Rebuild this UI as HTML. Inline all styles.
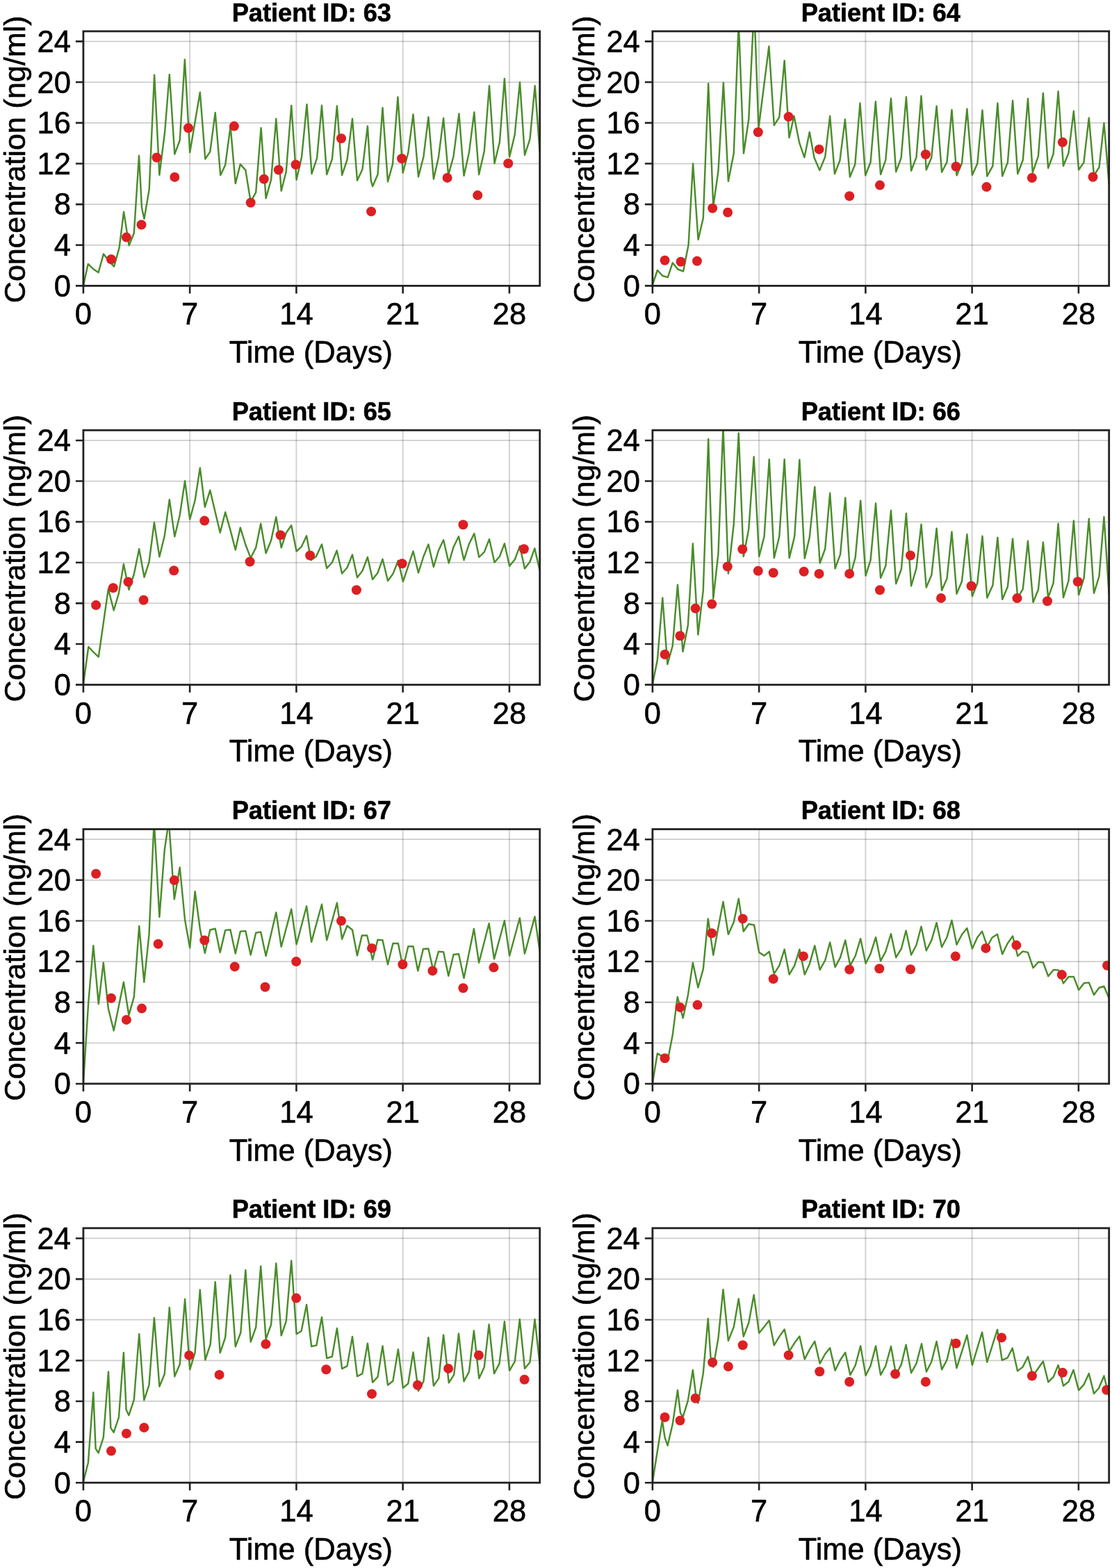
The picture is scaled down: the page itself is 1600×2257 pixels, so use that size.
<!DOCTYPE html>
<html><head><meta charset="utf-8"><title>Patient concentration plots</title>
<style>
html,body{margin:0;padding:0;background:#fff;}
body{width:1600px;height:2257px;overflow:hidden;}
svg{display:block;}
text{font-family:"Liberation Sans",Arial,Helvetica,sans-serif;fill:#000;stroke:#000;stroke-width:0.6px;}
.tk{font-size:43.5px;}
.lb{font-size:43.5px;}
.tt{font-size:36.2px;font-weight:bold;}
.yl{font-size:43px;}
</style></head><body>
<svg width="1600" height="2257" viewBox="0 0 1600 2257"><rect width="1600" height="2257" fill="#fff"/><path d="M273.15 45.00V411.40M426.41 45.00V411.40M579.66 45.00V411.40M732.91 45.00V411.40" stroke="#000" stroke-opacity="0.173" stroke-width="2" fill="none"/><path d="M119.90 352.78H776.70M119.90 294.15H776.70M119.90 235.53H776.70M119.90 176.90H776.70M119.90 118.28H776.70M119.90 59.66H776.70" stroke="#000" stroke-opacity="0.195" stroke-width="1.7" fill="none"/><clipPath id="c0"><rect x="119.90" y="45.00" width="656.80" height="366.40"/></clipPath><path d="M119.9,411.4 126.7,379.9 135.0,387.8 141.6,392.3 149.0,365.4 156.5,375.6 164.1,383.7 171.6,356.6 178.1,305.0 185.6,353.2 192.8,335.8 200.0,224.1 204.0,299.3 207.5,315.0 214.7,272.6 222.1,107.9 229.4,251.9 237.2,189.5 243.8,107.3 251.3,221.9 258.7,202.0 265.9,85.7 273.2,219.4 287.8,132.9 295.3,228.9 302.3,218.4 309.7,162.2 317.2,252.2 324.2,237.4 331.6,182.2 338.8,264.1 345.8,236.4 353.3,244.9 360.7,290.5 368.2,276.9 375.6,184.2 382.6,285.4 390.1,258.7 397.3,171.0 404.7,274.7 411.7,247.3 419.2,152.0 426.6,258.7 434.1,225.7 441.5,150.2 448.5,250.2 456.0,227.9 463.0,151.8 470.2,251.2 477.9,228.9 484.9,152.4 492.1,252.2 499.5,230.0 507.0,171.0 514.0,259.7 521.4,243.9 528.9,181.6 533.7,259.7 536.1,268.2 543.5,251.2 550.5,155.2 558.0,261.5 565.0,236.4 572.4,139.7 579.7,248.7 587.3,219.8 594.5,164.6 602.0,254.4 609.4,225.7 616.4,168.4 623.9,257.7 630.9,226.9 638.1,170.2 645.1,252.2 652.6,224.7 660.4,163.7 667.5,253.0 674.9,219.8 682.3,161.4 689.1,251.2 696.8,217.4 704.0,123.4 711.5,235.2 718.9,204.5 725.9,113.2 733.1,225.7 740.6,194.3 748.0,118.4 755.0,223.2 762.5,200.2 769.7,123.4 776.7,219.4" stroke="#4a8c2a" stroke-width="2.45" fill="none" stroke-linejoin="round" clip-path="url(#c0)"/><circle cx="160.0" cy="373.3" r="7" fill="#dc1f22" clip-path="url(#c0)"/><circle cx="181.9" cy="341.6" r="7" fill="#dc1f22" clip-path="url(#c0)"/><circle cx="203.5" cy="323.5" r="7" fill="#dc1f22" clip-path="url(#c0)"/><circle cx="225.4" cy="226.7" r="7" fill="#dc1f22" clip-path="url(#c0)"/><circle cx="251.3" cy="254.9" r="7" fill="#dc1f22" clip-path="url(#c0)"/><circle cx="271.0" cy="184.2" r="7" fill="#dc1f22" clip-path="url(#c0)"/><circle cx="336.9" cy="181.6" r="7" fill="#dc1f22" clip-path="url(#c0)"/><circle cx="360.7" cy="291.7" r="7" fill="#dc1f22" clip-path="url(#c0)"/><circle cx="379.8" cy="257.7" r="7" fill="#dc1f22" clip-path="url(#c0)"/><circle cx="400.8" cy="244.5" r="7" fill="#dc1f22" clip-path="url(#c0)"/><circle cx="425.5" cy="237.0" r="7" fill="#dc1f22" clip-path="url(#c0)"/><circle cx="491.0" cy="199.2" r="7" fill="#dc1f22" clip-path="url(#c0)"/><circle cx="534.1" cy="304.4" r="7" fill="#dc1f22" clip-path="url(#c0)"/><circle cx="578.1" cy="228.3" r="7" fill="#dc1f22" clip-path="url(#c0)"/><circle cx="643.6" cy="255.9" r="7" fill="#dc1f22" clip-path="url(#c0)"/><circle cx="687.2" cy="281.1" r="7" fill="#dc1f22" clip-path="url(#c0)"/><circle cx="731.2" cy="235.2" r="7" fill="#dc1f22" clip-path="url(#c0)"/><rect x="119.90" y="45.00" width="656.80" height="366.40" fill="none" stroke="#222222" stroke-width="2.8"/><path d="M119.90 411.40V422.40M273.15 411.40V422.40M426.41 411.40V422.40M579.66 411.40V422.40M732.91 411.40V422.40M119.90 411.40H108.90M119.90 352.78H108.90M119.90 294.15H108.90M119.90 235.53H108.90M119.90 176.90H108.90M119.90 118.28H108.90M119.90 59.66H108.90" stroke="#222222" stroke-width="2.6" fill="none"/><text x="119.90" y="467.40" text-anchor="middle" class="tk">0</text><text x="273.15" y="467.40" text-anchor="middle" class="tk">7</text><text x="426.41" y="467.40" text-anchor="middle" class="tk">14</text><text x="579.66" y="467.40" text-anchor="middle" class="tk">21</text><text x="732.91" y="467.40" text-anchor="middle" class="tk">28</text><text x="101.90" y="426.70" text-anchor="end" class="tk">0</text><text x="101.90" y="368.08" text-anchor="end" class="tk">4</text><text x="101.90" y="309.45" text-anchor="end" class="tk">8</text><text x="101.90" y="250.83" text-anchor="end" class="tk">12</text><text x="101.90" y="192.20" text-anchor="end" class="tk">16</text><text x="101.90" y="133.58" text-anchor="end" class="tk">20</text><text x="101.90" y="74.96" text-anchor="end" class="tk">24</text><text x="447.30" y="522.00" text-anchor="middle" class="lb">Time (Days)</text><text transform="translate(35.90,229.40) rotate(-90)" text-anchor="middle" class="yl">Concentration (ng/ml)</text><text x="448.30" y="30.50" text-anchor="middle" class="tt">Patient ID: 63</text><path d="M1092.15 45.00V411.40M1245.41 45.00V411.40M1398.66 45.00V411.40M1551.91 45.00V411.40" stroke="#000" stroke-opacity="0.173" stroke-width="2" fill="none"/><path d="M938.90 352.78H1595.70M938.90 294.15H1595.70M938.90 235.53H1595.70M938.90 176.90H1595.70M938.90 118.28H1595.70M938.90 59.66H1595.70" stroke="#000" stroke-opacity="0.195" stroke-width="1.7" fill="none"/><clipPath id="c1"><rect x="938.90" y="45.00" width="656.80" height="366.40"/></clipPath><path d="M938.9,409.9 945.9,389.0 953.3,397.0 960.8,399.1 967.8,378.3 975.2,387.5 983.1,390.6 990.6,352.5 997.1,235.5 1004.6,345.0 1011.8,314.1 1019.2,120.3 1026.3,297.2 1033.5,246.2 1040.9,119.0 1047.9,261.0 1055.8,220.7 1062.8,31.8 1070.0,220.7 1077.3,171.8 1085.1,8.4 1091.5,184.5 1106.4,66.7 1113.8,180.3 1121.3,168.6 1128.7,87.2 1135.5,198.3 1142.5,167.1 1150.0,204.8 1157.4,226.6 1164.8,190.2 1171.6,227.0 1179.3,245.1 1187.2,226.0 1194.2,167.1 1201.0,250.3 1208.4,231.3 1215.9,171.8 1222.9,254.7 1230.3,236.6 1237.5,148.5 1245.2,252.5 1252.6,233.5 1259.9,146.3 1267.1,251.1 1274.3,230.3 1282.0,141.6 1289.2,247.3 1296.6,227.6 1303.9,139.5 1311.1,245.8 1318.5,226.4 1325.5,138.2 1332.8,244.5 1340.2,227.0 1347.6,152.7 1355.1,247.8 1362.5,233.3 1369.5,158.0 1376.5,252.5 1384.0,235.1 1391.4,156.8 1398.9,252.1 1406.3,235.5 1413.5,158.6 1420.3,253.6 1428.4,238.8 1435.4,148.5 1442.2,253.6 1449.9,233.9 1457.1,144.8 1464.3,250.3 1471.8,230.3 1479.0,142.0 1485.8,248.3 1493.9,224.8 1500.9,134.1 1508.1,242.0 1515.6,221.8 1522.6,131.5 1530.0,238.8 1537.5,220.3 1544.9,160.0 1552.1,244.5 1559.4,233.9 1566.8,169.7 1574.0,252.5 1581.5,240.8 1588.5,177.1 1595.7,264.8" stroke="#4a8c2a" stroke-width="2.45" fill="none" stroke-linejoin="round" clip-path="url(#c1)"/><circle cx="956.6" cy="374.8" r="7" fill="#dc1f22" clip-path="url(#c1)"/><circle cx="979.6" cy="376.8" r="7" fill="#dc1f22" clip-path="url(#c1)"/><circle cx="1003.0" cy="375.8" r="7" fill="#dc1f22" clip-path="url(#c1)"/><circle cx="1025.2" cy="299.7" r="7" fill="#dc1f22" clip-path="url(#c1)"/><circle cx="1047.1" cy="305.7" r="7" fill="#dc1f22" clip-path="url(#c1)"/><circle cx="1090.8" cy="190.2" r="7" fill="#dc1f22" clip-path="url(#c1)"/><circle cx="1134.6" cy="168.1" r="7" fill="#dc1f22" clip-path="url(#c1)"/><circle cx="1178.6" cy="214.9" r="7" fill="#dc1f22" clip-path="url(#c1)"/><circle cx="1222.2" cy="282.3" r="7" fill="#dc1f22" clip-path="url(#c1)"/><circle cx="1266.0" cy="266.6" r="7" fill="#dc1f22" clip-path="url(#c1)"/><circle cx="1331.9" cy="222.3" r="7" fill="#dc1f22" clip-path="url(#c1)"/><circle cx="1375.5" cy="239.8" r="7" fill="#dc1f22" clip-path="url(#c1)"/><circle cx="1419.5" cy="269.1" r="7" fill="#dc1f22" clip-path="url(#c1)"/><circle cx="1484.9" cy="256.0" r="7" fill="#dc1f22" clip-path="url(#c1)"/><circle cx="1528.9" cy="204.8" r="7" fill="#dc1f22" clip-path="url(#c1)"/><circle cx="1572.5" cy="254.7" r="7" fill="#dc1f22" clip-path="url(#c1)"/><rect x="938.90" y="45.00" width="656.80" height="366.40" fill="none" stroke="#222222" stroke-width="2.8"/><path d="M938.90 411.40V422.40M1092.15 411.40V422.40M1245.41 411.40V422.40M1398.66 411.40V422.40M1551.91 411.40V422.40M938.90 411.40H927.90M938.90 352.78H927.90M938.90 294.15H927.90M938.90 235.53H927.90M938.90 176.90H927.90M938.90 118.28H927.90M938.90 59.66H927.90" stroke="#222222" stroke-width="2.6" fill="none"/><text x="938.90" y="467.40" text-anchor="middle" class="tk">0</text><text x="1092.15" y="467.40" text-anchor="middle" class="tk">7</text><text x="1245.41" y="467.40" text-anchor="middle" class="tk">14</text><text x="1398.66" y="467.40" text-anchor="middle" class="tk">21</text><text x="1551.91" y="467.40" text-anchor="middle" class="tk">28</text><text x="920.90" y="426.70" text-anchor="end" class="tk">0</text><text x="920.90" y="368.08" text-anchor="end" class="tk">4</text><text x="920.90" y="309.45" text-anchor="end" class="tk">8</text><text x="920.90" y="250.83" text-anchor="end" class="tk">12</text><text x="920.90" y="192.20" text-anchor="end" class="tk">16</text><text x="920.90" y="133.58" text-anchor="end" class="tk">20</text><text x="920.90" y="74.96" text-anchor="end" class="tk">24</text><text x="1266.30" y="522.00" text-anchor="middle" class="lb">Time (Days)</text><text transform="translate(854.90,229.40) rotate(-90)" text-anchor="middle" class="yl">Concentration (ng/ml)</text><text x="1267.30" y="30.50" text-anchor="middle" class="tt">Patient ID: 64</text><path d="M273.15 619.27V985.67M426.41 619.27V985.67M579.66 619.27V985.67M732.91 619.27V985.67" stroke="#000" stroke-opacity="0.173" stroke-width="2" fill="none"/><path d="M119.90 927.05H776.70M119.90 868.42H776.70M119.90 809.80H776.70M119.90 751.17H776.70M119.90 692.55H776.70M119.90 633.93H776.70" stroke="#000" stroke-opacity="0.195" stroke-width="1.7" fill="none"/><clipPath id="c2"><rect x="119.90" y="619.27" width="656.80" height="366.40"/></clipPath><path d="M119.9,984.8 127.3,931.0 135.0,939.1 141.8,945.5 155.8,847.8 163.7,878.5 170.9,854.1 177.9,812.0 185.4,848.8 192.8,826.5 200.2,790.3 207.5,830.8 214.5,809.1 221.9,752.1 229.4,801.4 236.8,771.3 243.8,719.2 251.3,772.3 258.7,741.5 266.1,692.3 273.2,747.5 280.6,720.2 287.8,673.5 294.8,729.8 302.3,705.7 309.7,737.3 316.7,766.6 324.2,737.3 331.4,762.8 338.8,791.5 345.8,759.5 353.3,784.0 360.7,803.1 368.2,788.3 375.2,753.8 382.6,796.3 390.1,777.7 397.3,744.3 404.7,788.3 411.7,767.0 419.2,756.3 426.6,793.5 433.6,787.2 441.1,771.3 447.4,806.3 454.9,801.0 463.0,783.6 470.2,818.0 477.9,809.5 484.6,792.5 492.1,825.5 499.5,817.0 507.0,798.5 514.0,831.2 521.4,821.8 528.9,802.0 536.1,834.0 543.5,824.5 550.5,804.8 558.0,836.0 565.4,826.1 572.9,807.0 579.9,837.1 594.5,793.5 602.0,824.5 609.4,801.0 616.4,783.6 623.9,816.0 630.9,792.5 638.1,777.3 645.8,810.5 652.6,787.2 660.0,772.3 667.5,806.3 674.9,783.0 682.3,768.0 689.3,802.0 696.8,794.6 704.0,776.1 711.5,809.5 718.9,801.0 725.9,782.5 733.1,814.8 740.8,805.3 748.0,786.1 755.0,818.4 762.5,808.5 769.3,789.3 776.7,821.5" stroke="#4a8c2a" stroke-width="2.45" fill="none" stroke-linejoin="round" clip-path="url(#c2)"/><circle cx="138.1" cy="871.1" r="7" fill="#dc1f22" clip-path="url(#c2)"/><circle cx="162.8" cy="846.3" r="7" fill="#dc1f22" clip-path="url(#c2)"/><circle cx="184.5" cy="837.5" r="7" fill="#dc1f22" clip-path="url(#c2)"/><circle cx="206.6" cy="863.7" r="7" fill="#dc1f22" clip-path="url(#c2)"/><circle cx="250.2" cy="821.2" r="7" fill="#dc1f22" clip-path="url(#c2)"/><circle cx="294.2" cy="749.6" r="7" fill="#dc1f22" clip-path="url(#c2)"/><circle cx="359.6" cy="808.5" r="7" fill="#dc1f22" clip-path="url(#c2)"/><circle cx="403.6" cy="770.2" r="7" fill="#dc1f22" clip-path="url(#c2)"/><circle cx="446.1" cy="799.5" r="7" fill="#dc1f22" clip-path="url(#c2)"/><circle cx="512.9" cy="849.2" r="7" fill="#dc1f22" clip-path="url(#c2)"/><circle cx="578.6" cy="811.3" r="7" fill="#dc1f22" clip-path="url(#c2)"/><circle cx="666.4" cy="755.3" r="7" fill="#dc1f22" clip-path="url(#c2)"/><circle cx="753.9" cy="790.3" r="7" fill="#dc1f22" clip-path="url(#c2)"/><rect x="119.90" y="619.27" width="656.80" height="366.40" fill="none" stroke="#222222" stroke-width="2.8"/><path d="M119.90 985.67V996.67M273.15 985.67V996.67M426.41 985.67V996.67M579.66 985.67V996.67M732.91 985.67V996.67M119.90 985.67H108.90M119.90 927.05H108.90M119.90 868.42H108.90M119.90 809.80H108.90M119.90 751.17H108.90M119.90 692.55H108.90M119.90 633.93H108.90" stroke="#222222" stroke-width="2.6" fill="none"/><text x="119.90" y="1041.67" text-anchor="middle" class="tk">0</text><text x="273.15" y="1041.67" text-anchor="middle" class="tk">7</text><text x="426.41" y="1041.67" text-anchor="middle" class="tk">14</text><text x="579.66" y="1041.67" text-anchor="middle" class="tk">21</text><text x="732.91" y="1041.67" text-anchor="middle" class="tk">28</text><text x="101.90" y="1000.97" text-anchor="end" class="tk">0</text><text x="101.90" y="942.35" text-anchor="end" class="tk">4</text><text x="101.90" y="883.72" text-anchor="end" class="tk">8</text><text x="101.90" y="825.10" text-anchor="end" class="tk">12</text><text x="101.90" y="766.47" text-anchor="end" class="tk">16</text><text x="101.90" y="707.85" text-anchor="end" class="tk">20</text><text x="101.90" y="649.23" text-anchor="end" class="tk">24</text><text x="447.30" y="1096.27" text-anchor="middle" class="lb">Time (Days)</text><text transform="translate(35.90,803.67) rotate(-90)" text-anchor="middle" class="yl">Concentration (ng/ml)</text><text x="448.30" y="604.77" text-anchor="middle" class="tt">Patient ID: 65</text><path d="M1092.15 619.27V985.67M1245.41 619.27V985.67M1398.66 619.27V985.67M1551.91 619.27V985.67" stroke="#000" stroke-opacity="0.173" stroke-width="2" fill="none"/><path d="M938.90 927.05H1595.70M938.90 868.42H1595.70M938.90 809.80H1595.70M938.90 751.17H1595.70M938.90 692.55H1595.70M938.90 633.93H1595.70" stroke="#000" stroke-opacity="0.195" stroke-width="1.7" fill="none"/><clipPath id="c3"><rect x="938.90" y="619.27" width="656.80" height="366.40"/></clipPath><path d="M938.9,984.8 945.9,949.8 953.3,860.5 960.4,956.1 967.8,929.5 975.0,841.7 982.5,938.0 989.9,899.8 996.9,782.5 1004.4,913.6 1011.8,849.8 1019.2,632.0 1026.3,861.5 1033.5,796.8 1040.5,613.4 1047.9,825.5 1055.8,754.3 1062.8,623.5 1069.8,801.0 1077.3,761.7 1084.7,657.5 1092.2,801.0 1099.6,772.3 1106.8,661.2 1113.8,803.1 1121.3,772.3 1128.7,661.2 1135.7,803.1 1143.2,772.3 1150.4,661.8 1157.8,803.8 1164.8,773.5 1172.3,700.8 1179.7,810.5 1187.2,790.3 1194.2,709.7 1201.6,818.4 1209.1,797.8 1216.3,716.4 1223.3,829.0 1230.7,802.6 1238.2,720.7 1245.6,828.6 1252.6,806.3 1260.1,724.5 1267.1,831.8 1274.3,814.8 1282.0,734.8 1289.2,840.3 1296.9,819.0 1303.9,739.0 1311.1,843.5 1318.5,818.0 1325.5,754.8 1332.8,845.6 1340.4,827.5 1347.6,760.6 1355.1,849.8 1362.5,832.8 1369.5,765.5 1376.5,854.8 1384.0,836.8 1391.4,769.1 1398.9,858.3 1406.3,839.3 1413.5,771.7 1420.3,860.5 1428.4,842.5 1435.4,773.7 1442.2,862.7 1449.9,844.5 1457.1,775.5 1464.3,860.5 1471.8,847.8 1479.0,778.7 1486.5,867.0 1493.9,848.8 1500.9,780.5 1508.1,860.1 1515.6,839.3 1522.6,753.7 1530.0,860.1 1537.5,836.0 1544.9,749.4 1552.1,856.3 1559.6,831.8 1566.8,746.8 1574.0,853.8 1581.5,829.7 1588.5,744.0 1595.7,855.2" stroke="#4a8c2a" stroke-width="2.45" fill="none" stroke-linejoin="round" clip-path="url(#c3)"/><circle cx="956.6" cy="942.0" r="7" fill="#dc1f22" clip-path="url(#c3)"/><circle cx="978.5" cy="915.2" r="7" fill="#dc1f22" clip-path="url(#c3)"/><circle cx="1000.6" cy="875.8" r="7" fill="#dc1f22" clip-path="url(#c3)"/><circle cx="1024.3" cy="869.6" r="7" fill="#dc1f22" clip-path="url(#c3)"/><circle cx="1046.8" cy="815.5" r="7" fill="#dc1f22" clip-path="url(#c3)"/><circle cx="1068.3" cy="790.5" r="7" fill="#dc1f22" clip-path="url(#c3)"/><circle cx="1090.8" cy="821.7" r="7" fill="#dc1f22" clip-path="url(#c3)"/><circle cx="1112.7" cy="824.5" r="7" fill="#dc1f22" clip-path="url(#c3)"/><circle cx="1156.7" cy="822.8" r="7" fill="#dc1f22" clip-path="url(#c3)"/><circle cx="1178.6" cy="825.9" r="7" fill="#dc1f22" clip-path="url(#c3)"/><circle cx="1222.2" cy="825.9" r="7" fill="#dc1f22" clip-path="url(#c3)"/><circle cx="1266.0" cy="849.2" r="7" fill="#dc1f22" clip-path="url(#c3)"/><circle cx="1310.0" cy="799.5" r="7" fill="#dc1f22" clip-path="url(#c3)"/><circle cx="1354.0" cy="860.9" r="7" fill="#dc1f22" clip-path="url(#c3)"/><circle cx="1397.6" cy="843.5" r="7" fill="#dc1f22" clip-path="url(#c3)"/><circle cx="1463.5" cy="861.1" r="7" fill="#dc1f22" clip-path="url(#c3)"/><circle cx="1507.0" cy="865.3" r="7" fill="#dc1f22" clip-path="url(#c3)"/><circle cx="1550.8" cy="837.2" r="7" fill="#dc1f22" clip-path="url(#c3)"/><rect x="938.90" y="619.27" width="656.80" height="366.40" fill="none" stroke="#222222" stroke-width="2.8"/><path d="M938.90 985.67V996.67M1092.15 985.67V996.67M1245.41 985.67V996.67M1398.66 985.67V996.67M1551.91 985.67V996.67M938.90 985.67H927.90M938.90 927.05H927.90M938.90 868.42H927.90M938.90 809.80H927.90M938.90 751.17H927.90M938.90 692.55H927.90M938.90 633.93H927.90" stroke="#222222" stroke-width="2.6" fill="none"/><text x="938.90" y="1041.67" text-anchor="middle" class="tk">0</text><text x="1092.15" y="1041.67" text-anchor="middle" class="tk">7</text><text x="1245.41" y="1041.67" text-anchor="middle" class="tk">14</text><text x="1398.66" y="1041.67" text-anchor="middle" class="tk">21</text><text x="1551.91" y="1041.67" text-anchor="middle" class="tk">28</text><text x="920.90" y="1000.97" text-anchor="end" class="tk">0</text><text x="920.90" y="942.35" text-anchor="end" class="tk">4</text><text x="920.90" y="883.72" text-anchor="end" class="tk">8</text><text x="920.90" y="825.10" text-anchor="end" class="tk">12</text><text x="920.90" y="766.47" text-anchor="end" class="tk">16</text><text x="920.90" y="707.85" text-anchor="end" class="tk">20</text><text x="920.90" y="649.23" text-anchor="end" class="tk">24</text><text x="1266.30" y="1096.27" text-anchor="middle" class="lb">Time (Days)</text><text transform="translate(854.90,803.67) rotate(-90)" text-anchor="middle" class="yl">Concentration (ng/ml)</text><text x="1267.30" y="604.77" text-anchor="middle" class="tt">Patient ID: 66</text><path d="M273.15 1193.54V1559.94M426.41 1193.54V1559.94M579.66 1193.54V1559.94M732.91 1193.54V1559.94" stroke="#000" stroke-opacity="0.173" stroke-width="2" fill="none"/><path d="M119.90 1501.32H776.70M119.90 1442.69H776.70M119.90 1384.07H776.70M119.90 1325.44H776.70M119.90 1266.82H776.70M119.90 1208.20H776.70" stroke="#000" stroke-opacity="0.195" stroke-width="1.7" fill="none"/><clipPath id="c4"><rect x="119.90" y="1193.54" width="656.80" height="366.40"/></clipPath><path d="M119.9,1558.8 127.3,1442.0 134.3,1361.2 141.8,1445.2 148.8,1385.7 155.8,1451.5 163.7,1483.4 177.9,1413.7 185.4,1461.2 192.8,1434.9 200.2,1332.9 207.3,1413.7 214.5,1345.4 221.7,1181.8 229.4,1319.9 236.8,1223.1 242.9,1181.8 250.8,1294.4 258.7,1248.6 266.1,1324.1 273.2,1364.4 280.6,1283.2 287.8,1336.9 294.8,1371.9 302.3,1338.5 309.7,1336.7 316.7,1370.9 324.2,1338.9 331.4,1338.3 338.8,1372.5 345.8,1340.7 353.3,1340.1 360.7,1374.5 368.2,1342.7 375.2,1341.4 382.6,1376.0 397.3,1313.4 404.7,1362.7 419.2,1308.6 426.6,1359.2 441.1,1304.5 448.1,1355.9 463.0,1301.7 470.2,1353.3 484.9,1299.6 492.1,1351.7 499.5,1332.5 507.0,1338.5 514.0,1375.4 520.8,1346.4 528.2,1346.4 536.1,1381.4 543.5,1352.7 550.5,1353.3 558.0,1388.3 565.4,1358.0 572.9,1358.0 579.9,1393.2 587.3,1362.2 594.5,1362.2 601.3,1397.4 609.0,1366.0 616.4,1365.5 623.4,1397.3 630.9,1369.7 638.1,1370.3 645.3,1404.7 652.6,1374.0 660.0,1373.2 667.5,1408.0 681.9,1336.9 689.1,1385.7 703.6,1329.3 711.0,1380.4 725.9,1325.2 733.1,1375.7 747.8,1321.5 755.0,1372.8 769.5,1319.4 776.7,1369.4" stroke="#4a8c2a" stroke-width="2.45" fill="none" stroke-linejoin="round" clip-path="url(#c4)"/><circle cx="138.1" cy="1257.7" r="7" fill="#dc1f22" clip-path="url(#c4)"/><circle cx="160.0" cy="1436.7" r="7" fill="#dc1f22" clip-path="url(#c4)"/><circle cx="181.9" cy="1467.9" r="7" fill="#dc1f22" clip-path="url(#c4)"/><circle cx="204.0" cy="1451.6" r="7" fill="#dc1f22" clip-path="url(#c4)"/><circle cx="227.6" cy="1358.7" r="7" fill="#dc1f22" clip-path="url(#c4)"/><circle cx="250.8" cy="1267.1" r="7" fill="#dc1f22" clip-path="url(#c4)"/><circle cx="294.2" cy="1353.4" r="7" fill="#dc1f22" clip-path="url(#c4)"/><circle cx="337.7" cy="1391.4" r="7" fill="#dc1f22" clip-path="url(#c4)"/><circle cx="381.5" cy="1420.7" r="7" fill="#dc1f22" clip-path="url(#c4)"/><circle cx="426.2" cy="1384.1" r="7" fill="#dc1f22" clip-path="url(#c4)"/><circle cx="491.0" cy="1325.6" r="7" fill="#dc1f22" clip-path="url(#c4)"/><circle cx="535.0" cy="1364.9" r="7" fill="#dc1f22" clip-path="url(#c4)"/><circle cx="579.4" cy="1388.3" r="7" fill="#dc1f22" clip-path="url(#c4)"/><circle cx="622.4" cy="1397.4" r="7" fill="#dc1f22" clip-path="url(#c4)"/><circle cx="666.4" cy="1422.2" r="7" fill="#dc1f22" clip-path="url(#c4)"/><circle cx="710.4" cy="1392.6" r="7" fill="#dc1f22" clip-path="url(#c4)"/><rect x="119.90" y="1193.54" width="656.80" height="366.40" fill="none" stroke="#222222" stroke-width="2.8"/><path d="M119.90 1559.94V1570.94M273.15 1559.94V1570.94M426.41 1559.94V1570.94M579.66 1559.94V1570.94M732.91 1559.94V1570.94M119.90 1559.94H108.90M119.90 1501.32H108.90M119.90 1442.69H108.90M119.90 1384.07H108.90M119.90 1325.44H108.90M119.90 1266.82H108.90M119.90 1208.20H108.90" stroke="#222222" stroke-width="2.6" fill="none"/><text x="119.90" y="1615.94" text-anchor="middle" class="tk">0</text><text x="273.15" y="1615.94" text-anchor="middle" class="tk">7</text><text x="426.41" y="1615.94" text-anchor="middle" class="tk">14</text><text x="579.66" y="1615.94" text-anchor="middle" class="tk">21</text><text x="732.91" y="1615.94" text-anchor="middle" class="tk">28</text><text x="101.90" y="1575.24" text-anchor="end" class="tk">0</text><text x="101.90" y="1516.62" text-anchor="end" class="tk">4</text><text x="101.90" y="1457.99" text-anchor="end" class="tk">8</text><text x="101.90" y="1399.37" text-anchor="end" class="tk">12</text><text x="101.90" y="1340.74" text-anchor="end" class="tk">16</text><text x="101.90" y="1282.12" text-anchor="end" class="tk">20</text><text x="101.90" y="1223.50" text-anchor="end" class="tk">24</text><text x="447.30" y="1670.54" text-anchor="middle" class="lb">Time (Days)</text><text transform="translate(35.90,1377.94) rotate(-90)" text-anchor="middle" class="yl">Concentration (ng/ml)</text><text x="448.30" y="1179.04" text-anchor="middle" class="tt">Patient ID: 67</text><path d="M1092.15 1193.54V1559.94M1245.41 1193.54V1559.94M1398.66 1193.54V1559.94M1551.91 1193.54V1559.94" stroke="#000" stroke-opacity="0.173" stroke-width="2" fill="none"/><path d="M938.90 1501.32H1595.70M938.90 1442.69H1595.70M938.90 1384.07H1595.70M938.90 1325.44H1595.70M938.90 1266.82H1595.70M938.90 1208.20H1595.70" stroke="#000" stroke-opacity="0.195" stroke-width="1.7" fill="none"/><clipPath id="c5"><rect x="938.90" y="1193.54" width="656.80" height="366.40"/></clipPath><path d="M938.9,1558.8 945.9,1516.4 953.3,1520.7 960.8,1525.9 967.8,1489.7 974.8,1434.9 982.7,1465.4 989.9,1432.4 996.9,1385.7 1004.4,1421.4 1011.8,1395.2 1018.8,1322.4 1026.3,1374.7 1033.5,1334.7 1040.5,1298.0 1047.9,1344.9 1055.8,1327.2 1062.8,1293.6 1069.8,1340.7 1077.3,1330.0 1085.1,1331.5 1092.2,1370.9 1099.6,1375.6 1106.8,1369.7 1113.8,1401.7 1121.3,1389.9 1128.7,1366.6 1135.7,1402.7 1143.2,1389.9 1150.4,1366.6 1157.8,1402.7 1164.8,1387.7 1172.3,1361.2 1179.7,1395.9 1187.2,1382.5 1194.2,1356.5 1201.6,1392.1 1209.1,1378.2 1216.3,1353.4 1223.3,1389.9 1230.7,1376.0 1238.2,1351.2 1245.6,1386.7 1252.6,1372.9 1260.1,1349.2 1267.1,1383.2 1274.3,1369.7 1282.0,1344.2 1289.2,1378.2 1296.9,1365.5 1303.6,1339.5 1311.1,1374.5 1318.5,1360.2 1325.5,1333.7 1332.8,1368.2 1340.4,1353.4 1347.6,1328.2 1355.1,1363.3 1362.5,1349.2 1369.5,1324.7 1376.5,1359.7 1384.0,1345.2 1391.4,1336.1 1398.9,1365.5 1406.3,1349.2 1413.1,1340.7 1420.6,1362.2 1427.6,1349.5 1435.0,1344.8 1442.2,1373.4 1449.7,1358.0 1457.1,1347.4 1464.3,1376.2 1471.6,1369.4 1479.0,1370.9 1486.5,1393.2 1493.9,1384.7 1500.9,1385.2 1508.3,1405.2 1515.8,1395.9 1523.0,1396.4 1530.0,1415.4 1537.5,1405.9 1544.9,1405.9 1552.1,1425.0 1559.8,1415.0 1566.8,1414.4 1574.0,1432.0 1581.5,1421.7 1588.5,1419.7 1595.7,1436.8" stroke="#4a8c2a" stroke-width="2.45" fill="none" stroke-linejoin="round" clip-path="url(#c5)"/><circle cx="956.6" cy="1523.3" r="7" fill="#dc1f22" clip-path="url(#c5)"/><circle cx="978.5" cy="1449.9" r="7" fill="#dc1f22" clip-path="url(#c5)"/><circle cx="1003.5" cy="1446.6" r="7" fill="#dc1f22" clip-path="url(#c5)"/><circle cx="1024.1" cy="1343.2" r="7" fill="#dc1f22" clip-path="url(#c5)"/><circle cx="1068.7" cy="1322.4" r="7" fill="#dc1f22" clip-path="url(#c5)"/><circle cx="1112.7" cy="1409.1" r="7" fill="#dc1f22" clip-path="url(#c5)"/><circle cx="1155.9" cy="1376.4" r="7" fill="#dc1f22" clip-path="url(#c5)"/><circle cx="1222.2" cy="1395.6" r="7" fill="#dc1f22" clip-path="url(#c5)"/><circle cx="1265.3" cy="1394.2" r="7" fill="#dc1f22" clip-path="url(#c5)"/><circle cx="1310.0" cy="1395.2" r="7" fill="#dc1f22" clip-path="url(#c5)"/><circle cx="1374.8" cy="1376.6" r="7" fill="#dc1f22" clip-path="url(#c5)"/><circle cx="1418.4" cy="1364.9" r="7" fill="#dc1f22" clip-path="url(#c5)"/><circle cx="1462.4" cy="1360.6" r="7" fill="#dc1f22" clip-path="url(#c5)"/><circle cx="1527.8" cy="1403.1" r="7" fill="#dc1f22" clip-path="url(#c5)"/><circle cx="1593.1" cy="1389.8" r="7" fill="#dc1f22" clip-path="url(#c5)"/><rect x="938.90" y="1193.54" width="656.80" height="366.40" fill="none" stroke="#222222" stroke-width="2.8"/><path d="M938.90 1559.94V1570.94M1092.15 1559.94V1570.94M1245.41 1559.94V1570.94M1398.66 1559.94V1570.94M1551.91 1559.94V1570.94M938.90 1559.94H927.90M938.90 1501.32H927.90M938.90 1442.69H927.90M938.90 1384.07H927.90M938.90 1325.44H927.90M938.90 1266.82H927.90M938.90 1208.20H927.90" stroke="#222222" stroke-width="2.6" fill="none"/><text x="938.90" y="1615.94" text-anchor="middle" class="tk">0</text><text x="1092.15" y="1615.94" text-anchor="middle" class="tk">7</text><text x="1245.41" y="1615.94" text-anchor="middle" class="tk">14</text><text x="1398.66" y="1615.94" text-anchor="middle" class="tk">21</text><text x="1551.91" y="1615.94" text-anchor="middle" class="tk">28</text><text x="920.90" y="1575.24" text-anchor="end" class="tk">0</text><text x="920.90" y="1516.62" text-anchor="end" class="tk">4</text><text x="920.90" y="1457.99" text-anchor="end" class="tk">8</text><text x="920.90" y="1399.37" text-anchor="end" class="tk">12</text><text x="920.90" y="1340.74" text-anchor="end" class="tk">16</text><text x="920.90" y="1282.12" text-anchor="end" class="tk">20</text><text x="920.90" y="1223.50" text-anchor="end" class="tk">24</text><text x="1266.30" y="1670.54" text-anchor="middle" class="lb">Time (Days)</text><text transform="translate(854.90,1377.94) rotate(-90)" text-anchor="middle" class="yl">Concentration (ng/ml)</text><text x="1267.30" y="1179.04" text-anchor="middle" class="tt">Patient ID: 68</text><path d="M273.15 1767.81V2134.21M426.41 1767.81V2134.21M579.66 1767.81V2134.21M732.91 1767.81V2134.21" stroke="#000" stroke-opacity="0.173" stroke-width="2" fill="none"/><path d="M119.90 2075.59H776.70M119.90 2016.96H776.70M119.90 1958.34H776.70M119.90 1899.71H776.70M119.90 1841.09H776.70M119.90 1782.47H776.70" stroke="#000" stroke-opacity="0.195" stroke-width="1.7" fill="none"/><clipPath id="c6"><rect x="119.90" y="1767.81" width="656.80" height="366.40"/></clipPath><path d="M119.9,2132.7 126.9,2105.2 134.3,2004.2 137.6,2085.0 141.6,2091.4 148.8,2069.1 156.0,1974.5 159.3,2055.4 163.7,2061.7 170.9,2040.4 177.9,1946.9 181.6,2029.3 185.4,2037.2 192.8,2014.9 200.2,1920.2 207.3,2015.3 214.5,1993.7 221.9,1896.9 229.4,1995.7 236.8,1977.7 243.8,1882.1 251.3,1981.3 258.7,1963.9 266.1,1870.0 273.2,1971.4 280.6,1946.9 287.8,1856.6 295.3,1957.5 302.7,1935.2 309.7,1845.3 316.7,1947.3 324.2,1925.2 331.4,1835.4 338.8,1938.4 346.3,1918.2 353.3,1828.3 360.7,1931.5 368.2,1910.7 375.2,1822.6 382.6,1927.7 390.1,1906.5 397.3,1818.4 404.7,1922.4 411.7,1902.2 419.2,1814.7 426.6,1920.2 433.6,1916.0 441.1,1877.9 448.1,1938.0 455.3,1936.6 463.0,1895.9 470.2,1955.0 477.9,1952.8 484.9,1911.9 492.1,1970.2 499.5,1966.4 507.0,1923.9 514.0,1981.3 521.4,1977.1 528.9,1933.7 536.1,1989.8 543.5,1981.9 550.5,1937.4 558.0,1993.7 565.4,1987.7 572.9,1942.2 579.9,1997.9 587.3,1991.5 594.5,1946.5 602.0,2002.2 609.4,1988.4 616.4,1925.2 623.9,1994.7 631.3,1984.1 638.1,1921.4 645.8,1990.4 653.2,1978.9 660.0,1919.6 667.5,1988.4 674.9,1974.6 681.9,1915.4 689.3,1984.1 696.8,1967.7 703.6,1906.5 711.0,1977.1 718.5,1962.9 725.9,1902.2 733.1,1972.8 740.8,1959.7 747.8,1899.0 755.0,1969.9 762.5,1960.7 769.5,1899.0 776.7,1964.2" stroke="#4a8c2a" stroke-width="2.45" fill="none" stroke-linejoin="round" clip-path="url(#c6)"/><circle cx="160.0" cy="2088.6" r="7" fill="#dc1f22" clip-path="url(#c6)"/><circle cx="181.9" cy="2063.4" r="7" fill="#dc1f22" clip-path="url(#c6)"/><circle cx="207.3" cy="2054.9" r="7" fill="#dc1f22" clip-path="url(#c6)"/><circle cx="272.1" cy="1950.9" r="7" fill="#dc1f22" clip-path="url(#c6)"/><circle cx="315.6" cy="1978.9" r="7" fill="#dc1f22" clip-path="url(#c6)"/><circle cx="382.4" cy="1934.7" r="7" fill="#dc1f22" clip-path="url(#c6)"/><circle cx="426.2" cy="1868.6" r="7" fill="#dc1f22" clip-path="url(#c6)"/><circle cx="469.3" cy="1971.2" r="7" fill="#dc1f22" clip-path="url(#c6)"/><circle cx="535.0" cy="2006.4" r="7" fill="#dc1f22" clip-path="url(#c6)"/><circle cx="600.9" cy="1993.7" r="7" fill="#dc1f22" clip-path="url(#c6)"/><circle cx="645.1" cy="1969.9" r="7" fill="#dc1f22" clip-path="url(#c6)"/><circle cx="688.9" cy="1950.7" r="7" fill="#dc1f22" clip-path="url(#c6)"/><circle cx="754.6" cy="1985.7" r="7" fill="#dc1f22" clip-path="url(#c6)"/><rect x="119.90" y="1767.81" width="656.80" height="366.40" fill="none" stroke="#222222" stroke-width="2.8"/><path d="M119.90 2134.21V2145.21M273.15 2134.21V2145.21M426.41 2134.21V2145.21M579.66 2134.21V2145.21M732.91 2134.21V2145.21M119.90 2134.21H108.90M119.90 2075.59H108.90M119.90 2016.96H108.90M119.90 1958.34H108.90M119.90 1899.71H108.90M119.90 1841.09H108.90M119.90 1782.47H108.90" stroke="#222222" stroke-width="2.6" fill="none"/><text x="119.90" y="2190.21" text-anchor="middle" class="tk">0</text><text x="273.15" y="2190.21" text-anchor="middle" class="tk">7</text><text x="426.41" y="2190.21" text-anchor="middle" class="tk">14</text><text x="579.66" y="2190.21" text-anchor="middle" class="tk">21</text><text x="732.91" y="2190.21" text-anchor="middle" class="tk">28</text><text x="101.90" y="2149.51" text-anchor="end" class="tk">0</text><text x="101.90" y="2090.89" text-anchor="end" class="tk">4</text><text x="101.90" y="2032.26" text-anchor="end" class="tk">8</text><text x="101.90" y="1973.64" text-anchor="end" class="tk">12</text><text x="101.90" y="1915.01" text-anchor="end" class="tk">16</text><text x="101.90" y="1856.39" text-anchor="end" class="tk">20</text><text x="101.90" y="1797.77" text-anchor="end" class="tk">24</text><text x="447.30" y="2244.81" text-anchor="middle" class="lb">Time (Days)</text><text transform="translate(35.90,1952.21) rotate(-90)" text-anchor="middle" class="yl">Concentration (ng/ml)</text><text x="448.30" y="1753.31" text-anchor="middle" class="tt">Patient ID: 69</text><path d="M1092.15 1767.81V2134.21M1245.41 1767.81V2134.21M1398.66 1767.81V2134.21M1551.91 1767.81V2134.21" stroke="#000" stroke-opacity="0.173" stroke-width="2" fill="none"/><path d="M938.90 2075.59H1595.70M938.90 2016.96H1595.70M938.90 1958.34H1595.70M938.90 1899.71H1595.70M938.90 1841.09H1595.70M938.90 1782.47H1595.70" stroke="#000" stroke-opacity="0.195" stroke-width="1.7" fill="none"/><clipPath id="c7"><rect x="938.90" y="1767.81" width="656.80" height="366.40"/></clipPath><path d="M938.9,2132.7 952.9,2044.7 956.6,2069.1 960.6,2080.7 967.8,2049.9 975.0,2001.1 979.0,2034.0 982.7,2039.4 989.9,2015.9 996.9,1972.0 1001.3,2008.5 1004.4,2019.6 1011.8,1976.7 1018.8,1898.0 1022.5,1953.2 1026.3,1967.7 1033.5,1926.1 1040.5,1856.2 1047.9,1929.9 1055.8,1910.1 1062.8,1869.4 1069.8,1923.9 1077.3,1904.0 1084.7,1864.0 1092.2,1918.8 1099.6,1909.7 1106.8,1900.6 1113.8,1936.4 1121.3,1923.9 1128.7,1913.5 1135.7,1945.1 1143.2,1933.1 1150.4,1923.5 1157.8,1956.4 1164.8,1942.7 1172.3,1930.9 1179.7,1962.7 1187.2,1949.0 1194.2,1940.2 1201.6,1972.8 1209.1,1957.5 1216.3,1946.9 1223.3,1979.1 1230.7,1965.5 1238.2,1937.4 1245.6,1979.9 1252.6,1966.0 1260.1,1937.4 1267.1,1979.1 1274.3,1966.0 1282.0,1938.0 1289.2,1978.7 1296.9,1963.9 1303.6,1935.8 1311.1,1976.2 1318.5,1962.7 1326.0,1934.2 1333.0,1974.5 1340.4,1959.7 1347.6,1930.9 1355.1,1971.4 1362.5,1957.5 1369.5,1928.1 1376.5,1969.2 1391.4,1921.8 1398.9,1964.9 1413.1,1917.6 1420.3,1960.7 1435.0,1913.9 1441.8,1957.9 1449.7,1954.4 1456.7,1940.5 1464.1,1973.4 1471.6,1967.6 1479.0,1952.8 1486.2,1980.5 1500.9,1959.5 1508.3,1989.4 1515.8,1981.9 1522.6,1964.9 1530.0,1994.7 1537.5,1989.0 1544.5,1972.0 1552.1,2001.1 1559.4,1993.2 1566.8,1977.1 1574.0,2006.0 1581.0,1998.3 1588.5,1980.5 1595.7,2009.6" stroke="#4a8c2a" stroke-width="2.45" fill="none" stroke-linejoin="round" clip-path="url(#c7)"/><circle cx="956.6" cy="2040.0" r="7" fill="#dc1f22" clip-path="url(#c7)"/><circle cx="978.5" cy="2044.7" r="7" fill="#dc1f22" clip-path="url(#c7)"/><circle cx="1000.6" cy="2012.7" r="7" fill="#dc1f22" clip-path="url(#c7)"/><circle cx="1025.2" cy="1961.1" r="7" fill="#dc1f22" clip-path="url(#c7)"/><circle cx="1047.9" cy="1967.0" r="7" fill="#dc1f22" clip-path="url(#c7)"/><circle cx="1068.7" cy="1936.2" r="7" fill="#dc1f22" clip-path="url(#c7)"/><circle cx="1134.6" cy="1950.7" r="7" fill="#dc1f22" clip-path="url(#c7)"/><circle cx="1179.3" cy="1974.2" r="7" fill="#dc1f22" clip-path="url(#c7)"/><circle cx="1222.2" cy="1989.0" r="7" fill="#dc1f22" clip-path="url(#c7)"/><circle cx="1288.1" cy="1977.7" r="7" fill="#dc1f22" clip-path="url(#c7)"/><circle cx="1331.9" cy="1989.0" r="7" fill="#dc1f22" clip-path="url(#c7)"/><circle cx="1375.5" cy="1933.7" r="7" fill="#dc1f22" clip-path="url(#c7)"/><circle cx="1441.1" cy="1925.4" r="7" fill="#dc1f22" clip-path="url(#c7)"/><circle cx="1484.9" cy="1980.5" r="7" fill="#dc1f22" clip-path="url(#c7)"/><circle cx="1528.9" cy="1975.8" r="7" fill="#dc1f22" clip-path="url(#c7)"/><circle cx="1592.2" cy="2000.7" r="7" fill="#dc1f22" clip-path="url(#c7)"/><rect x="938.90" y="1767.81" width="656.80" height="366.40" fill="none" stroke="#222222" stroke-width="2.8"/><path d="M938.90 2134.21V2145.21M1092.15 2134.21V2145.21M1245.41 2134.21V2145.21M1398.66 2134.21V2145.21M1551.91 2134.21V2145.21M938.90 2134.21H927.90M938.90 2075.59H927.90M938.90 2016.96H927.90M938.90 1958.34H927.90M938.90 1899.71H927.90M938.90 1841.09H927.90M938.90 1782.47H927.90" stroke="#222222" stroke-width="2.6" fill="none"/><text x="938.90" y="2190.21" text-anchor="middle" class="tk">0</text><text x="1092.15" y="2190.21" text-anchor="middle" class="tk">7</text><text x="1245.41" y="2190.21" text-anchor="middle" class="tk">14</text><text x="1398.66" y="2190.21" text-anchor="middle" class="tk">21</text><text x="1551.91" y="2190.21" text-anchor="middle" class="tk">28</text><text x="920.90" y="2149.51" text-anchor="end" class="tk">0</text><text x="920.90" y="2090.89" text-anchor="end" class="tk">4</text><text x="920.90" y="2032.26" text-anchor="end" class="tk">8</text><text x="920.90" y="1973.64" text-anchor="end" class="tk">12</text><text x="920.90" y="1915.01" text-anchor="end" class="tk">16</text><text x="920.90" y="1856.39" text-anchor="end" class="tk">20</text><text x="920.90" y="1797.77" text-anchor="end" class="tk">24</text><text x="1266.30" y="2244.81" text-anchor="middle" class="lb">Time (Days)</text><text transform="translate(854.90,1952.21) rotate(-90)" text-anchor="middle" class="yl">Concentration (ng/ml)</text><text x="1267.30" y="1753.31" text-anchor="middle" class="tt">Patient ID: 70</text></svg>
</body></html>
